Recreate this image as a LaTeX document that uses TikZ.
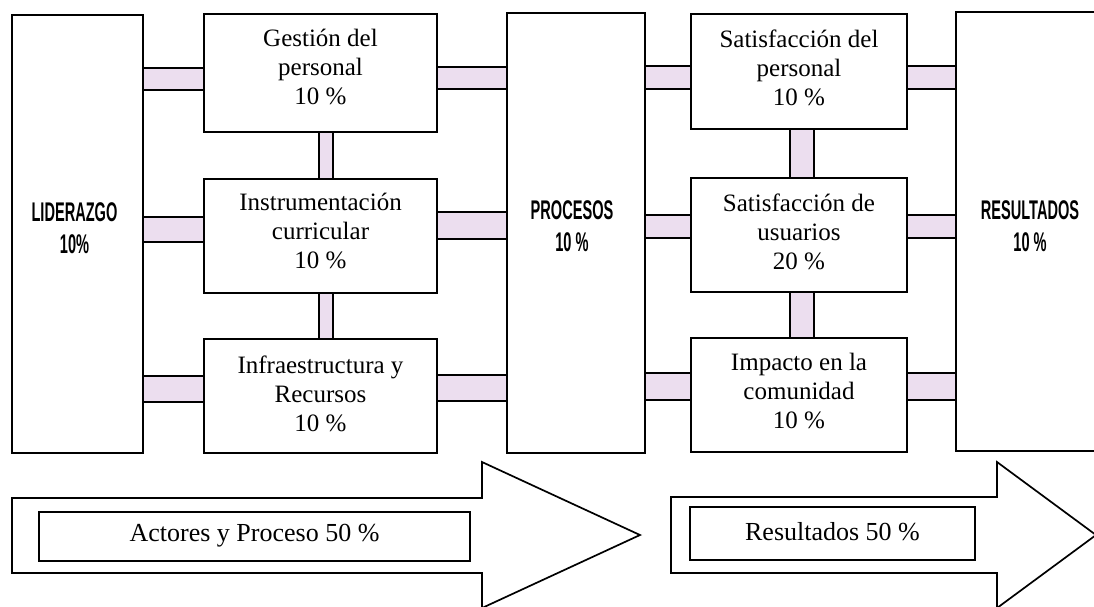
\documentclass[tikz,border=0pt]{standalone}
\usepackage{fontspec}
\setmainfont{Liberation Serif}
\newfontfamily\labelsans{Liberation Sans}
\usetikzlibrary{backgrounds}
\definecolor{connpink}{RGB}{236,222,239}
\newcommand\sq[1]{\scalebox{0.54}[1]{#1}}
% horizontal connector: left node, right node, y top, y bottom
\newcommand\hconn[4]{%
  \fill[connpink] (#1.east |- 0,#3) rectangle (#2.west |- 0,#4);
  \draw[connline] (#1.east |- 0,#3) -- (#2.west |- 0,#3);
  \draw[connline] (#1.east |- 0,#4) -- (#2.west |- 0,#4);}
% vertical connector: top node, bottom node, x left, x right
\newcommand\vconn[4]{%
  \fill[connpink] (#3,0 |- #1.south) rectangle (#4,0 |- #2.north);
  \draw[connline] (#3,0 |- #1.south) -- (#3,0 |- #2.north);
  \draw[connline] (#4,0 |- #1.south) -- (#4,0 |- #2.north);}
\begin{document}
\begin{tikzpicture}[x=1pt,y=-1pt,
  box/.style={draw, line width=1.7pt, fill=white, inner sep=0pt, outer sep=0pt},
  txt/.style={align=center, inner sep=0pt, font=\fontsize{25}{29}\selectfont},
  bigtxt/.style={align=center, inner sep=0pt, font=\labelsans\bfseries\fontsize{27}{31.5}\selectfont},
  bottxt/.style={align=center, inner sep=0pt, font=\fontsize{26}{30}\selectfont},
  connline/.style={line width=1.7pt},
  arrowshape/.style={draw, line width=1.7pt, fill=white, line join=miter}]
\useasboundingbox (0,0) rectangle (1094,606);

% main column boxes
\node[box, minimum width=131pt, minimum height=438pt] (lid) at (77.5,234) {};
\node[box, minimum width=233pt, minimum height=118pt] (gest) at (320.5,73) {};
\node[box, minimum width=233pt, minimum height=114pt] (instr) at (320.5,236) {};
\node[box, minimum width=233pt, minimum height=114pt] (infra) at (320.5,396) {};
\node[box, minimum width=138pt, minimum height=440pt] (proc) at (576,233) {};
\node[box, minimum width=216pt, minimum height=115pt] (satp) at (799,71.5) {};
\node[box, minimum width=216pt, minimum height=114pt] (satu) at (799,235) {};
\node[box, minimum width=216pt, minimum height=114pt] (imp) at (799,395) {};
\node[box, minimum width=148pt, minimum height=439pt] (res) at (1030,231.5) {};

% box texts
\node[bigtxt] (lid-t) at ([xshift=-3pt,yshift=6pt]lid.center) {\sq{LIDERAZGO}\\\sq{10\%}};
\node[txt] (gest-t) at ([yshift=6pt]gest.center) {Gestión del\\personal\\10 \%};
\node[txt] (instr-t) at ([yshift=5pt]instr.center) {Instrumentación\\curricular\\10 \%};
\node[txt] (infra-t) at ([yshift=2pt]infra.center) {Infraestructura y\\Recursos\\10 \%};
\node[bigtxt] (proc-t) at ([xshift=-4pt,yshift=7pt]proc.center) {\sq{PROCESOS}\\\sq{10 \%}};
\node[txt] (satp-t) at ([yshift=4pt]satp.center) {Satisfacción del\\personal\\10 \%};
\node[txt] (satu-t) at ([yshift=3.5pt]satu.center) {Satisfacción de\\usuarios\\20 \%};
\node[txt] (imp-t) at ([yshift=4pt]imp.center) {Impacto en la\\comunidad\\10 \%};
\node[bigtxt] (res-t) at ([yshift=5.5pt]res.center) {\sq{RESULTADOS}\\\sq{10 \%}};

% connectors
\begin{pgfonlayer}{background}
\hconn{lid}{gest}{68}{90}
\hconn{gest}{proc}{67}{89}
\hconn{lid}{instr}{217}{242}
\hconn{instr}{proc}{212}{239}
\hconn{lid}{infra}{376}{402}
\hconn{infra}{proc}{375}{401}
\hconn{proc}{satp}{66}{89}
\hconn{satp}{res}{66}{89}
\hconn{proc}{satu}{215}{238}
\hconn{satu}{res}{215}{238}
\hconn{proc}{imp}{373}{400}
\hconn{imp}{res}{373}{400}
\vconn{gest}{instr}{319}{333}
\vconn{instr}{infra}{319}{333}
\vconn{satp}{satu}{790}{814}
\vconn{satu}{imp}{790}{814}
\end{pgfonlayer}

% bottom arrows
\draw[arrowshape] (12,498) -- (482,498) -- (482,462) -- (640,535) -- (482,608) -- (482,573) -- (12,573) -- cycle;
\node[box, minimum width=431pt, minimum height=49pt] (ap) at (254.5,536.5) {};
\node[bottxt] (ap-t) at ([yshift=1pt]ap.center) {Actores y Proceso 50 \%};
\draw[arrowshape] (671,497) -- (997,497) -- (997,462) -- (1096,535) -- (997,608) -- (997,573) -- (671,573) -- cycle;
\node[box, minimum width=285pt, minimum height=53pt] (rp) at (832.5,533.5) {};
\node[bottxt] (rp-t) at ([yshift=2pt]rp.center) {Resultados 50 \%};
\end{tikzpicture}
\end{document}
